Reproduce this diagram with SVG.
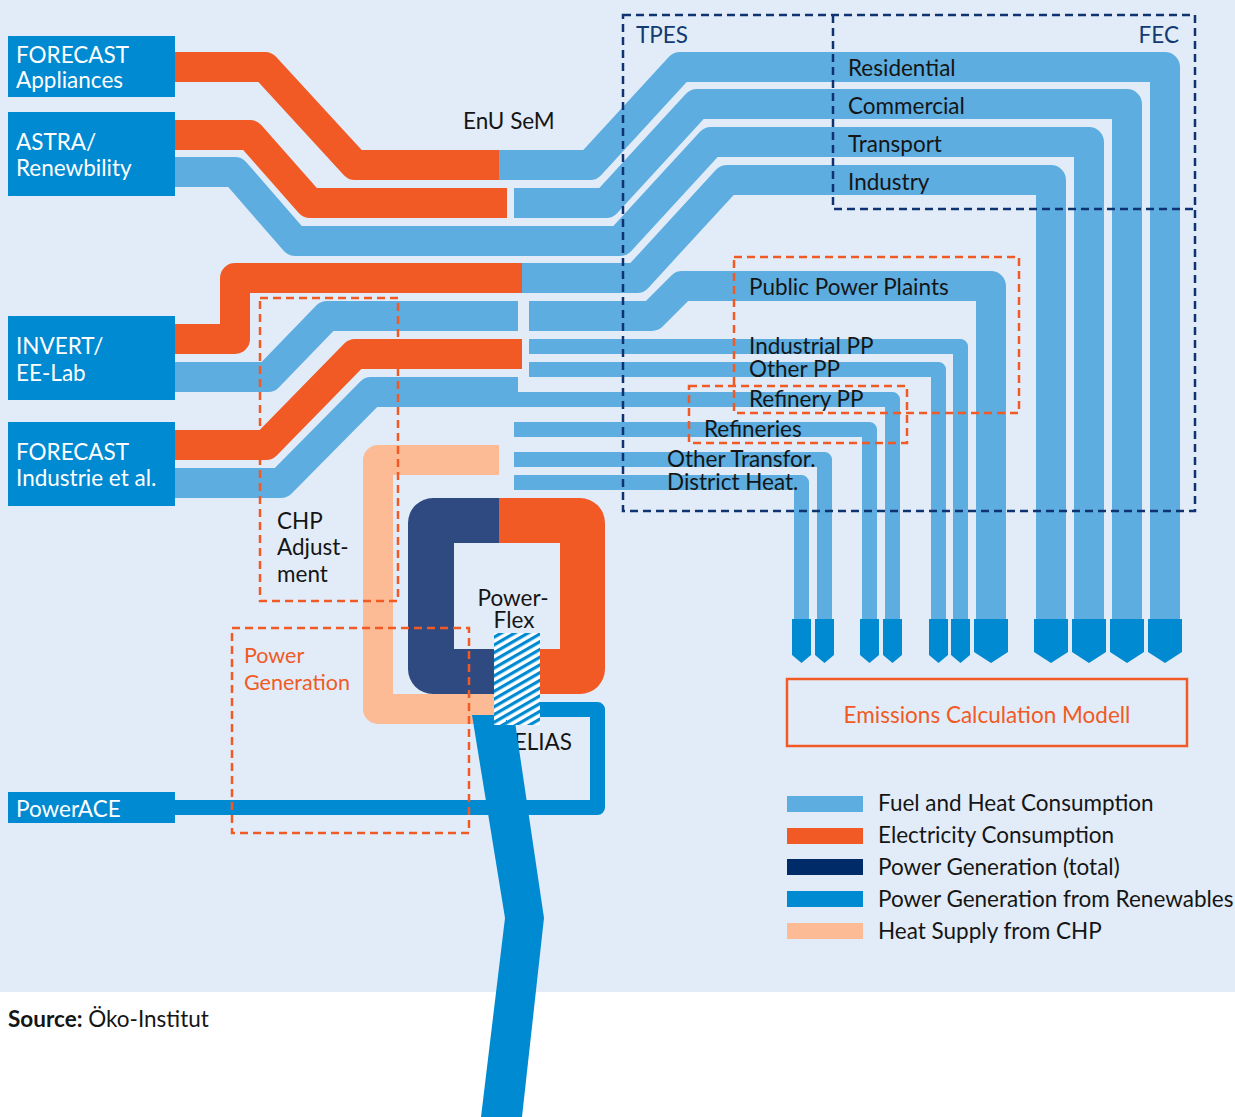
<svg xmlns="http://www.w3.org/2000/svg" width="1235" height="1117" viewBox="0 0 1235 1117">
<style>
.o{fill:none;stroke:#F15A24;stroke-width:30;stroke-linejoin:round}
.b{fill:none;stroke:#5DADE0;stroke-width:30;stroke-linejoin:round}
.bs{fill:none;stroke:#5DADE0;stroke-width:15;stroke-linejoin:round}
.pe{fill:none;stroke:#FCBA95;stroke-width:30;stroke-linejoin:round}
.rn{fill:none;stroke:#008AD2;stroke-width:15;stroke-linejoin:round}
.box{fill:#008AD2}
text{font-family:Lato,"Noto Sans",sans-serif;font-size:22.5px}
.w{fill:#fff}
.k{fill:#151515}
.nv{fill:#123A73}
.ot{fill:#F15A24}
.sm{font-size:21.5px}
.dn{fill:none;stroke:#0E3370;stroke-width:2.5;stroke-dasharray:8 5}
.do{fill:none;stroke:#F15A24;stroke-width:2.5;stroke-dasharray:8 5}
</style>
<defs>
<pattern id="hatch" patternUnits="userSpaceOnUse" width="10" height="6.7" patternTransform="rotate(-30)">
<rect width="10" height="6.7" fill="#fff"/><rect width="10" height="3.2" fill="#008AD2"/>
</pattern>
<path id="arS" d="M-9.5 619H9.5V655L0 663L-9.5 655Z"/>
<path id="arB" d="M-17 619H17V652L0 663L-17 652Z"/>
</defs>
<rect width="1235" height="1117" fill="#fff"/>
<rect width="1235" height="992" fill="#E2ECF8"/>

<g id="connectors">
<path class="o" d="M175 67H265L355 165H499"/>
<path class="o" d="M175 135H250L310 203H507"/>
<path class="o" d="M175 339H235V278H522"/>
<path class="o" d="M175 445H266L355 354H522"/>
<path class="b" d="M499 165H590L680 67H1165V619"/>
<path class="b" d="M514 203H606L697 104H1127V619"/>
<path class="b" d="M175 172H235L295 241H620L711 142H1089V619"/>
<path class="b" d="M522 278H637L727 180H1051V619"/>
<path class="b" d="M175 377H268L327 316H518"/>
<path class="b" d="M529 316H652L682 286H991V619"/>
<path class="b" d="M175 483H281L371 392H518"/>
<path class="bs" d="M529 346.5H960.5V619"/>
<path class="bs" d="M529 369.5H938.5V619"/>
<path class="bs" d="M518 399.5H892.5V619"/>
<path class="bs" d="M514 429.5H869.5V619"/>
<path class="bs" d="M514 459.5H824.5V619"/>
<path class="bs" d="M514 482.5H801.5V619"/>
<path class="pe" d="M499 460H378V709H495"/>
<g fill="#008AD2">
<use href="#arS" x="801.5"/><use href="#arS" x="824.5"/><use href="#arS" x="869.5"/><use href="#arS" x="892.5"/>
<use href="#arS" x="938.5"/><use href="#arS" x="960.5"/><use href="#arB" x="991"/>
<use href="#arB" x="1051"/><use href="#arB" x="1089"/><use href="#arB" x="1127"/><use href="#arB" x="1165"/>
</g>
</g>

<g id="powerflex">
<path fill="#2E4A80" d="M499 498H433A25 25 0 0 0 408 523V669A25 25 0 0 0 433 694H499V649H454V543H499Z"/>
<path fill="#F15A24" d="M499 498H580A25 25 0 0 1 605 523V669A25 25 0 0 1 580 694H499V649H560V543H499Z"/>
<text class="k" x="513" y="606" text-anchor="middle">Power-</text>
<text class="k" x="514" y="628" text-anchor="middle">Flex</text>
</g>

<g id="elias">
<text class="k" x="572" y="750" text-anchor="end">ELIAS</text>
<polygon fill="#008AD2" points="472,715 514,715 544,918 522,1117 481,1117 505,918"/>
<path class="rn" d="M540 709.5H597.5V807.5H175"/>
<rect x="494" y="633" width="46" height="92" fill="url(#hatch)"/>
</g>

<g id="frames">
<rect class="dn" x="623" y="15" width="572" height="496"/>
<path class="dn" d="M833 15V209H1195"/>
<rect class="do" x="734" y="257" width="285" height="156"/>
<rect class="do" x="689" y="386" width="218" height="57"/>
<rect class="do" x="260" y="298" width="138" height="303"/>
<rect class="do" x="232" y="628" width="237" height="205"/>
<text class="nv" x="636" y="43">TPES</text>
<text class="nv" x="1179" y="43" text-anchor="end">FEC</text>
</g>

<g id="labels">
<text class="k" x="463" y="129">EnU SeM</text>
<text class="k" x="848" y="76">Residential</text>
<text class="k" x="848" y="114">Commercial</text>
<text class="k" x="848" y="152">Transport</text>
<text class="k" x="848" y="190">Industry</text>
<text class="k" x="749" y="295">Public Power Plaints</text>
<text class="k" x="749" y="354">Industrial PP</text>
<text class="k" x="749" y="377">Other PP</text>
<text class="k" x="749" y="407">Refinery PP</text>
<text class="k" x="704" y="437">Refineries</text>
<text class="k" x="667" y="467">Other Transfor.</text>
<text class="k" x="667" y="490">District Heat.</text>
<text class="k" x="277" y="529">CHP</text>
<text class="k" x="277" y="555">Adjust-</text>
<text class="k" x="277" y="582">ment</text>
<text class="ot sm" x="244" y="663">Power</text>
<text class="ot sm" x="244" y="690">Generation</text>
</g>

<g id="forecast-appliances">
<rect class="box" x="8" y="36" width="167" height="61"/>
<text class="w" x="16" y="63">FORECAST</text>
<text class="w" x="16" y="88">Appliances</text>
</g>
<g id="astra">
<rect class="box" x="8" y="112" width="167" height="84"/>
<text class="w" x="16" y="150">ASTRA/</text>
<text class="w" x="16" y="176">Renewbility</text>
</g>
<g id="invert">
<rect class="box" x="8" y="316" width="167" height="84"/>
<text class="w" x="16" y="354">INVERT/</text>
<text class="w" x="16" y="381">EE-Lab</text>
</g>
<g id="forecast-industrie">
<rect class="box" x="8" y="422" width="167" height="84"/>
<text class="w" x="16" y="460">FORECAST</text>
<text class="w" x="16" y="486">Industrie et al.</text>
</g>
<g id="poweract">
<rect class="box" x="8" y="792" width="167" height="31"/>
<text class="w" x="16" y="817">PowerACE</text>
</g>

<g id="emissions">
<rect x="787" y="679" width="400" height="67" fill="none" stroke="#F15A24" stroke-width="2.5"/>
<text class="ot" x="987" y="723" text-anchor="middle">Emissions Calculation Modell</text>
</g>

<g id="legend">
<rect x="787" y="796" width="76" height="16" fill="#5DADE0"/>
<rect x="787" y="828" width="76" height="16" fill="#F15A24"/>
<rect x="787" y="859" width="76" height="16" fill="#002B69"/>
<rect x="787" y="891" width="76" height="16" fill="#008AD2"/>
<rect x="787" y="923" width="76" height="16" fill="#FCBA95"/>
<text class="k" x="878" y="811">Fuel and Heat Consumption</text>
<text class="k" x="878" y="843">Electricity Consumption</text>
<text class="k" x="878" y="875">Power Generation (total)</text>
<text class="k" x="878" y="907">Power Generation from Renewables</text>
<text class="k" x="878" y="939">Heat Supply from CHP</text>
</g>

<text class="k" x="8" y="1027"><tspan font-weight="bold">Source:</tspan> Öko-Institut</text>
</svg>
